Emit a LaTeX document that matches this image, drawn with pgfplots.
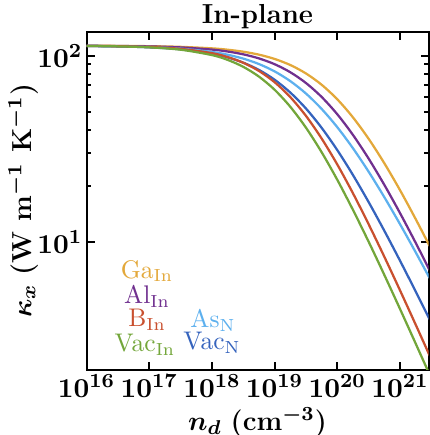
\documentclass[border=0pt]{standalone}
\usepackage{pgfplots}
\pgfplotsset{compat=1.18}
\definecolor{cGa}{HTML}{E3A83A}
\definecolor{cAl}{HTML}{70308F}
\definecolor{cB}{HTML}{C9502F}
\definecolor{cVi}{HTML}{73A63A}
\definecolor{cAs}{HTML}{5DB0EE}
\definecolor{cVn}{HTML}{3563BD}
\newcommand{\fs}{\fontsize{11}{13}\selectfont}
\newcommand{\fl}{\fontsize{10.2}{12}\selectfont}
\begin{document}
\begin{tikzpicture}
\begin{axis}[
  scale only axis, width=136.8pt, height=135.1pt,
  at={(0pt,0pt)}, anchor=south west,
  xmode=log, ymode=log,
  xmin=1e16, xmax=2.85e21, ymin=2.05, ymax=135,
  xtick={1e16,1e17,1e18,1e19,1e20,1e21},
  xminorticks=false,
  ytick={10,100},
  tick align=inside,
  xtick pos=both, ytick pos=both,
  major tick length=3.2pt, minor tick length=1.8pt,
  every tick/.style={black, line width=0.8pt},
  axis line style={line width=0.8pt},
  ticklabel style={font=\fs\boldmath},
  xticklabel style={inner sep=2pt},
  yticklabel style={inner sep=1.5pt},
  every axis title shift=0pt,
  title={\textbf{In-plane}},
  title style={font=\fs, at={(axis description cs:0.5,1.045)}, anchor=center, yshift=0pt, inner sep=0pt},
  xlabel={$n_d$ \textbf{(cm$^{-3}$)}},
  xlabel style={font=\fs\boldmath, at={(axis description cs:0.5,-0.157)}, anchor=center, inner sep=0pt},
  ylabel={$\kappa_x$ \textbf{(W m$^{-1}$ K$^{-1}$)}},
  ylabel style={font=\fs\boldmath, at={(axis description cs:-0.185,0.5)}, anchor=center, inner sep=0pt},
  every axis plot/.append style={line width=0.9pt, smooth, mark=none},
]
% Ga_In
\addplot[cGa] coordinates {
(1e16,113.46) (3.162e16,113.29) (1e17,112.88) (3.162e17,111.96) (1e18,109.89)
(1.778e18,108.07) (3.162e18,105.41) (5.623e18,101.63) (1e19,96.38) (1.778e19,89.38)
(3.162e19,80.51) (5.623e19,69.99) (1e20,58.42) (1.778e20,46.69) (3.162e20,35.80)
(5.623e20,26.45) (1e21,18.95) (1.778e21,13.24) (3.162e21,9.095)};
% Al_In
\addplot[cAl] coordinates {
(1e16,113.39) (3.162e16,113.13) (1e17,112.52) (3.162e17,111.18) (1e18,108.22)
(1.778e18,105.67) (3.162e18,102.05) (5.623e18,97.02) (1e19,90.29) (1.778e19,81.74)
(3.162e19,71.52) (5.623e19,60.17) (1e20,48.53) (1.778e20,37.56) (3.162e20,28.00)
(5.623e20,20.23) (1e21,14.26) (1.778e21,9.864) (3.162e21,6.730)};
% As_N
\addplot[cAs] coordinates {
(1e16,113.18) (3.162e16,112.70) (1e17,111.67) (3.162e17,109.51) (1e18,105.13)
(1.778e18,101.57) (3.162e18,96.77) (5.623e18,90.48) (1e19,82.60) (1.778e19,73.22)
(3.162e19,62.77) (5.623e19,51.87) (1e20,41.34) (1.778e20,31.84) (3.162e20,23.81)
(5.623e20,17.37) (1e21,12.43) (1.778e21,8.769) (3.162e21,6.121)};
% Vac_N
\addplot[cVn] coordinates {
(1e16,113.14) (3.162e16,112.57) (1e17,111.31) (3.162e17,108.57) (1e18,102.89)
(1.778e18,98.27) (3.162e18,92.08) (5.623e18,84.13) (1e19,74.49) (1.778e19,63.57)
(3.162e19,52.12) (5.623e19,41.04) (1e20,31.12) (1.778e20,22.85) (3.162e20,16.34)
(5.623e20,11.45) (1e21,7.905) (1.778e21,5.399) (3.162e21,3.660)};
% B_In
\addplot[cB] coordinates {
(1e16,113.28) (3.162e16,112.83) (1e17,111.75) (3.162e17,109.21) (1e18,103.52)
(1.778e18,98.64) (3.162e18,91.90) (5.623e18,83.06) (1e19,72.24) (1.778e19,60.07)
(3.162e19,47.58) (5.623e19,35.94) (1e20,26.03) (1.778e20,18.22) (3.162e20,12.41)
(5.623e20,8.298) (1e21,5.472) (1.778e21,3.577) (3.162e21,2.324)};
% Vac_In
\addplot[cVi] coordinates {
(1e16,113.2) (3.162e16,112.6) (1e17,111.26) (3.162e17,108.09) (1e18,101.1)
(1.778e18,95.26) (3.162e18,87.40) (5.623e18,77.44) (1e19,65.78) (1.778e19,53.28)
(3.162e19,41.11) (5.623e19,30.33) (1e20,21.53) (1.778e20,14.83) (3.162e20,9.993)
(5.623e20,6.625) (1e21,4.344) (1.778e21,2.829) (3.162e21,1.833)};
\begin{scope}[every node/.style={font=\fl, inner sep=0pt}]
\node[text=cGa] at (rel axis cs:0.177,0.2916) {Ga$_{\mathrm{In}}$};
\node[text=cAl] at (rel axis cs:0.177,0.2176) {Al$_{\mathrm{In}}$};
\node[text=cB] at (rel axis cs:0.177,0.1465) {B$_{\mathrm{In}}$};
\node[text=cVi] at (rel axis cs:0.171,0.0725) {Vac$_{\mathrm{In}}$};
\node[text=cAs] at (rel axis cs:0.370,0.1465) {As$_{\mathrm{N}}$};
\node[text=cVn] at (rel axis cs:0.367,0.078) {Vac$_{\mathrm{N}}$};
\end{scope}
\end{axis}
\pgfresetboundingbox
\path[use as bounding box] (-34.6pt,-26.2pt) rectangle (137.0pt,147.8pt);
\end{tikzpicture}
\end{document}
